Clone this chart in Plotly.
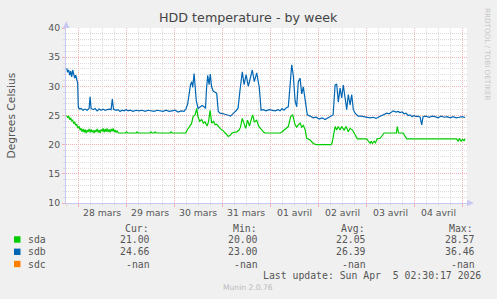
import pandas as pd
import plotly.graph_objects as go

# ---------------- data (hours after 2026-03-28 00:00) ----------------
sda_hours = [-5.8, -5.3, -4.8, -4.3, -3.8, -3.3, -2.8, -2.3, -1.8, -1.3, -0.8, -0.3,
             0.4, 0.9, 1.4, 1.9, 2.4, 2.9, 3.4, 3.9, 4.4, 4.9,
             5.4, 5.9, 6.4, 6.9, 7.4, 7.9, 8.4, 8.9, 9.4, 9.9,
             10.4, 10.9, 11.4, 11.9, 12.4, 12.9, 13.4, 13.9, 14.4, 14.9,
             15.4, 15.9, 16.4, 16.9, 17.4, 17.9, 18.4, 18.9, 19.4, 20.0,
             23.6, 24.1, 24.6, 28.9, 29.4, 29.9, 35.9, 36.4, 36.9, 37.9, 38.4, 38.9, 45.9, 46.4, 46.9, 53.7,
             54.6, 55.4, 55.9, 56.6, 57.4, 58.4, 59.2, 59.9, 60.7, 61.7,
             62.5, 63.4, 64.4, 65.1, 65.9, 66.7, 67.6, 68.4, 69.2, 70.0,
             71.1, 72.4, 73.4, 74.2, 75.0, 75.9, 76.9, 77.9, 79.2, 80.4,
             81.1, 82.0, 82.9, 83.7, 84.6, 85.6, 86.6, 87.2, 88.0, 89.2,
             90.1, 91.4, 92.5, 93.4, 100.9, 101.9, 102.9, 103.9, 105.0, 106.2,
             107.2, 108.4, 109.2, 110.0, 110.9, 111.7, 112.5, 113.4, 114.2, 115.9,
             117.5, 118.9, 126.4, 126.9, 127.5, 128.4, 129.2, 130.0, 130.9, 131.7,
             132.9, 133.9, 135.0, 135.9, 137.1, 138.4, 139.5, 144.2, 145.0, 145.9,
             146.4, 147.1, 147.9, 148.6, 149.4, 150.9, 152.9, 159.0, 159.5, 160.1,
             162.4, 164.2, 189.2, 189.9, 190.6, 191.4, 192.1, 192.9, 193.4]
sda_temp = [25.0, 24.6, 24.9, 24.3, 24.6, 24.1, 24.2, 23.6, 23.9, 23.3, 23.5, 22.9,
            23.1, 22.5, 22.8, 22.2, 22.7, 22.1, 22.6, 22.0, 22.5, 22.2,
            22.7, 22.1, 22.6, 22.2, 22.4, 22.0, 22.5, 22.2, 22.7, 22.1,
            22.5, 22.0, 22.6, 22.3, 22.8, 22.1, 22.7, 22.2, 22.8, 22.2,
            22.6, 22.1, 22.7, 22.3, 22.8, 22.2, 22.5, 22.1, 22.4, 22.0,
            22.0, 22.2, 22.0, 22.0, 22.2, 22.0, 22.0, 22.2, 22.0, 22.0, 22.2, 22.0, 22.0, 22.2, 22.0, 22.0,
            22.6, 23.0, 23.4, 23.6, 24.8, 25.1, 26.2, 24.7, 24.0, 24.3,
            23.7, 23.9, 23.2, 23.9, 25.9, 23.7, 24.0, 23.4, 23.5, 23.1,
            22.7, 22.4, 22.0, 21.7, 21.4, 21.6, 22.0, 22.1, 22.2, 22.5,
            23.0, 24.5, 23.4, 22.8, 24.2, 23.2, 24.5, 25.1, 23.9, 24.2,
            23.2, 22.6, 22.2, 22.0, 22.0, 22.2, 22.5, 22.8, 23.1, 24.8,
            25.1, 23.4, 23.0, 23.4, 23.7, 23.0, 23.3, 22.6, 21.1, 20.8,
            20.2, 20.0, 20.0, 20.3, 21.4, 23.1, 22.5, 23.1, 22.5, 23.1,
            22.5, 23.1, 22.2, 22.8, 22.5, 21.7, 21.0, 21.0, 20.5, 20.2,
            20.6, 20.2, 20.6, 20.3, 21.0, 21.1, 22.0, 22.0, 23.1, 22.0,
            22.0, 21.0, 21.0, 20.6, 21.0, 20.6, 20.9, 20.7, 21.0]

sdb_hours = [-5.8, -5.3, -4.8, -4.3, -3.8, -3.3, -2.8, -2.3, -1.8, -1.3,
             -0.8, -0.3, 0.0, 0.5, 1.4, 2.4, 3.4, 4.4, 5.4, 5.9,
             6.4, 7.4, 8.4, 9.4, 10.4, 11.4, 12.4, 13.4, 14.4, 15.4,
             16.4, 17.0, 17.6, 18.9, 19.9, 20.9, 21.9, 22.9, 23.9, 24.9,
             25.9, 27.4, 28.9, 30.4, 31.9, 33.4, 34.9, 36.4, 37.9, 39.4,
             40.9, 42.4, 43.9, 45.4, 46.9, 48.4, 49.9, 51.4, 52.9, 53.9,
             54.7, 55.4, 56.1, 56.7, 57.2, 57.9, 58.4, 59.0, 59.9, 60.9,
             61.9, 62.9, 63.6, 64.1, 64.7, 65.4, 66.0, 66.6, 67.4, 68.4,
             69.2, 70.0, 70.9, 72.4, 73.9, 75.4, 76.1, 76.9, 77.9, 79.1,
             79.9, 80.9, 82.0, 82.9, 83.9, 85.0, 86.1, 87.0, 88.0, 89.2,
             90.5, 91.4, 92.4, 93.9, 95.4, 96.9, 98.4, 99.9, 100.9, 101.9,
             102.9, 103.9, 105.0, 105.9, 106.7, 107.5, 108.4, 109.2, 110.0, 110.9,
             111.7, 112.5, 113.0, 113.9, 114.5, 115.9, 117.4, 118.9, 120.4, 121.9,
             123.4, 124.9, 125.9, 127.4, 128.4, 129.2, 130.0, 130.9, 131.7, 132.5,
             133.4, 134.2, 135.0, 135.9, 136.7, 137.5, 138.4, 139.9, 141.4, 142.9,
             144.4, 145.9, 147.4, 148.9, 150.4, 151.9, 152.9, 154.2, 155.4, 156.4,
             157.5, 158.9, 159.9, 160.9, 161.9, 162.9, 163.9, 164.9, 165.9, 166.9,
             167.9, 168.9, 169.9, 170.9, 171.7, 172.4, 173.9, 175.4, 176.9, 178.4,
             179.9, 181.4, 182.9, 184.4, 185.9, 187.4, 188.9, 190.4, 191.9, 193.4]
sdb_temp = [33.1, 32.4, 32.8, 31.9, 32.6, 31.6, 32.8, 31.8, 31.4, 31.9,
            31.2, 30.5, 26.5, 26.1, 26.2, 25.9, 26.1, 25.9, 26.2, 28.2,
            26.2, 26.0, 26.2, 25.8, 26.1, 25.9, 26.1, 25.9, 26.0, 26.1,
            26.0, 27.8, 26.1, 25.9, 26.0, 25.7, 25.9, 25.8, 26.0, 25.8,
            25.9, 25.7, 25.9, 25.8, 25.9, 25.7, 25.9, 25.8, 25.7, 25.9,
            25.8, 25.7, 25.9, 25.7, 25.8, 25.9, 25.6, 25.8, 25.7, 26.2,
            27.0, 29.0, 30.3, 30.8, 29.8, 32.2, 30.5, 27.5, 26.2, 26.4,
            26.7, 26.5, 26.2, 29.5, 31.9, 30.3, 32.1, 30.0, 29.2, 29.0,
            28.8, 25.7, 25.4, 25.3, 25.2, 25.0, 24.9, 25.1, 25.5, 25.9,
            26.3, 29.5, 32.5, 30.3, 32.0, 30.0, 31.5, 32.8, 30.8, 32.3,
            29.8, 25.9, 26.0, 25.8, 26.0, 25.9, 25.8, 26.0, 25.8, 26.2,
            25.9, 26.3, 26.5, 30.2, 33.7, 31.9, 27.5, 26.5, 30.8, 31.4,
            28.7, 29.9, 28.5, 27.0, 25.1, 24.9, 24.6, 24.7, 24.4, 24.6,
            24.3, 24.6, 24.8, 25.1, 30.2, 30.4, 27.3, 29.7, 28.0, 30.2,
            28.0, 26.0, 28.6, 26.8, 28.6, 26.0, 25.4, 24.9, 24.9, 24.8,
            24.6, 24.6, 24.7, 24.5, 24.8, 25.0, 25.1, 25.4, 25.3, 25.6,
            25.8, 25.6, 25.7, 25.5, 25.6, 25.3, 25.4, 25.0, 25.1, 24.8,
            25.0, 24.8, 24.9, 24.7, 23.4, 24.8, 24.9, 24.7, 24.9, 24.8,
            24.6, 24.9, 24.7, 24.8, 24.6, 24.8, 24.6, 24.7, 24.8, 24.66]

day_labels = ["28 mars", "29 mars", "30 mars", "31 mars",
              "01 avril", "02 avril", "03 avril", "04 avril"]
series_names = ["sda", "sdb", "sdc"]
series_colors = ["#00CC00", "#0066B3", "#FF8000"]
stat_headers = ["Cur:", "Min:", "Avg:", "Max:"]
stat_sda = ["21.00", "20.00", "22.05", "28.57"]
stat_sdb = ["24.66", "23.00", "26.39", "36.46"]
stat_sdc = ["-nan", "-nan", "-nan", "-nan"]
last_update = "Last update: Sun Apr  5 02:30:17 2026"

assert len(sda_hours) == len(sda_temp)
assert len(sdb_hours) == len(sdb_temp)

base = pd.Timestamp("2026-03-28 00:00")
t_sda = base + pd.to_timedelta(sda_hours, unit="h")
t_sdb = base + pd.to_timedelta(sdb_hours, unit="h")
days = [base + pd.Timedelta(days=i) for i in range(len(day_labels))]
noons = [d + pd.Timedelta(hours=12) for d in days]

# ---------------- layout geometry (pixels) ----------------
W, H = 497, 299
L, R, T, B = 66, 467, 28, 203


def px(x):
    return (x - L) / (R - L)


def py(y):
    return (B - y) / (B - T)


FONT = "DejaVu Sans"
MONO = "DejaVu Sans Mono"
TXT = "#555555"
MAJ = "#F4B2B2"
MIN = "#DCDCDC"
AXC = "#C8C8F4"

fig = go.Figure()
fig.add_trace(go.Scatter(x=t_sda, y=sda_temp, mode="lines",
                         line=dict(color=series_colors[0], width=1.2),
                         name=series_names[0], hoverinfo="skip"))
fig.add_trace(go.Scatter(x=t_sdb, y=sdb_temp, mode="lines",
                         line=dict(color=series_colors[1], width=1.2),
                         name=series_names[1], hoverinfo="skip"))

x_start = base - pd.Timedelta(hours=6.15)
x_end = base + pd.Timedelta(hours=194.35)

fig.update_layout(
    width=W, height=H,
    margin=dict(l=L, r=W - R, t=T, b=H - B, pad=0),
    paper_bgcolor="#F0F0F0", plot_bgcolor="#FFFFFF",
    showlegend=False,
    font=dict(family=FONT, color=TXT, size=9.3),
    xaxis=dict(
        type="date", range=[x_start, x_end],
        tick0=base, dtick=86400000,
        showticklabels=False,
        showgrid=True, gridcolor=MAJ, griddash="1px,1px", gridwidth=1,
        ticks="outside", ticklen=3, tickcolor=MAJ,
        minor=dict(dtick=6 * 3600000, tick0=base, showgrid=True,
                   gridcolor=MIN, griddash="1px,1px", ticks="outside",
                   ticklen=2, tickcolor=MIN),
        showline=True, linecolor=AXC, linewidth=1,
        zeroline=False, fixedrange=True,
    ),
    yaxis=dict(
        range=[10, 40], tick0=10, dtick=5,
        showgrid=True, gridcolor=MAJ, griddash="1px,1px", gridwidth=1,
        ticks="outside", ticklen=3, tickcolor=MAJ,
        minor=dict(dtick=1, showgrid=True, gridcolor=MIN,
                   griddash="1px,1px", ticks="outside", ticklen=2,
                   tickcolor=MIN),
        showline=True, linecolor=AXC, linewidth=1,
        zeroline=False, fixedrange=True,
        tickfont=dict(family=FONT, size=9.3, color=TXT),
    ),
)

ann = []
# title
ann.append(dict(text="HDD temperature - by week", x=px(248), y=py(18),
                font=dict(family=FONT, size=12.7, color="#444444")))
# y axis title
ann.append(dict(text="Degrees Celsius", x=px(11), y=py(115.5), textangle=-90,
                font=dict(family=FONT, size=10.7, color=TXT)))
# watermark right
ann.append(dict(text="RRDTOOL / TOBI OETIKER", x=px(488), y=py(54), textangle=90,
                font=dict(family=FONT, size=7.2, color="#C8C8C8")))
# munin version
ann.append(dict(text="Munin 2.0.76", x=px(248), y=py(287.7),
                font=dict(family=FONT, size=7.6, color="#BBBBBB")))

# day labels (x in data coordinates)
for t, lab in zip(noons, day_labels):
    ann.append(dict(text=lab, x=t, xref="x", y=py(212.5), yref="paper",
                    font=dict(family=FONT, size=9.3, color=TXT),
                    showarrow=False, xanchor="center", yanchor="middle"))

# legend headers
header_left = [122.7, 230.7, 338.7, 446.7]
value_right = [152.2, 260.2, 368.4, 476.7]
for hx, h in zip(header_left, stat_headers):
    ann.append(dict(text=h, x=px(hx), y=py(228.3), xanchor="left",
                    font=dict(family=MONO, size=9.8, color=TXT)))
row_y = [239.5, 251.8, 264.0]
for name, color, stats, ry in zip(series_names, series_colors,
                                  [stat_sda, stat_sdb, stat_sdc], row_y):
    ann.append(dict(text=name, x=px(26), y=py(ry), xanchor="left",
                    font=dict(family=MONO, size=9.8, color=TXT)))
    for vx, v in zip(value_right, stats):
        ann.append(dict(text=v, x=px(vx), y=py(ry), xanchor="right",
                        font=dict(family=MONO, size=9.8, color=TXT)))
ann.append(dict(text=last_update, x=px(482.7), y=py(275.7), xanchor="right",
                font=dict(family=MONO, size=9.8, color=TXT)))

for a in ann:
    a.setdefault("xref", "paper")
    a.setdefault("yref", "paper")
    a.setdefault("showarrow", False)
    a.setdefault("xanchor", "center")
    a.setdefault("yanchor", "middle")
fig.update_layout(annotations=ann)

shapes = []
# legend colour squares
for color, ry in zip(series_colors, row_y):
    shapes.append(dict(type="rect", xref="paper", yref="paper",
                       x0=px(14), x1=px(20.5), y0=py(ry + 3.2), y1=py(ry - 3.2),
                       fillcolor=color, line=dict(width=0)))
# axis arrows
shapes.append(dict(type="path", xref="paper", yref="paper",
                   path=f"M {px(63)} {py(28)} L {px(69.5)} {py(28)} L {px(66.2)} {py(21)} Z",
                   fillcolor=AXC, line=dict(width=0)))
shapes.append(dict(type="path", xref="paper", yref="paper",
                   path=f"M {px(467)} {py(199.8)} L {px(467)} {py(206.2)} L {px(474)} {py(203)} Z",
                   fillcolor=AXC, line=dict(width=0)))
fig.update_layout(shapes=shapes)

fig.write_html("out.html")
